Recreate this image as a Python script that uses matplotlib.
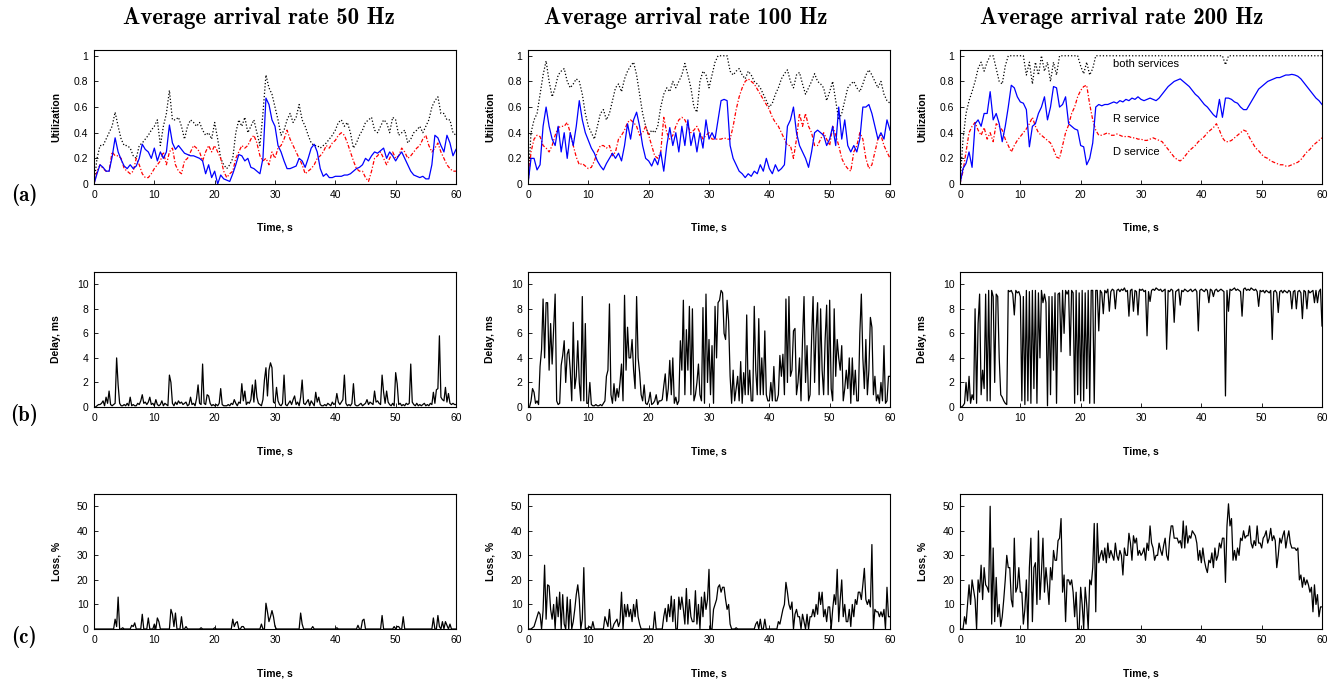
import os
import numpy as np
import matplotlib
matplotlib.use('Agg')
import matplotlib.pyplot as plt
from matplotlib.font_manager import FontProperties

plt.rcParams['font.family'] = ['Liberation Sans', 'DejaVu Sans']
cm_bold = FontProperties(fname=os.path.join(matplotlib.get_data_path(), 'fonts', 'ttf', 'cmb10.ttf'))

# time grids of the read-off samples
t_util = np.arange(121) * 0.5      # utilization, every 0.5 s
t_fine = np.arange(241) * 0.25     # delay / loss, every 0.25 s

rates = ['50', '100', '200']

# ---------------- utilization (row a) ----------------
util50_R = [0.0, 0.08, 0.15, 0.13, 0.1, 0.1, 0.21, 0.36, 0.25, 0.19,
            0.14, 0.12, 0.15, 0.12, 0.14, 0.2, 0.31, 0.27, 0.25, 0.2,
            0.28, 0.18, 0.25, 0.2, 0.25, 0.46, 0.32, 0.27, 0.3, 0.27,
            0.24, 0.23, 0.22, 0.22, 0.21, 0.2, 0.18, 0.08, 0.15, 0.05,
            0.1, 0.0, 0.07, 0.04, 0.03, 0.02, 0.08, 0.15, 0.23, 0.22,
            0.18, 0.2, 0.13, 0.12, 0.1, 0.08, 0.2, 0.67, 0.62, 0.5,
            0.45, 0.3, 0.25, 0.18, 0.12, 0.12, 0.13, 0.14, 0.2, 0.18,
            0.13, 0.2, 0.28, 0.31, 0.25, 0.12, 0.06, 0.08, 0.05, 0.05,
            0.06, 0.06, 0.06, 0.07, 0.07, 0.08, 0.1, 0.12, 0.13, 0.15,
            0.2, 0.18, 0.22, 0.25, 0.24, 0.26, 0.28, 0.2, 0.25, 0.22,
            0.18, 0.22, 0.25, 0.2, 0.15, 0.1, 0.07, 0.06, 0.05, 0.06,
            0.04, 0.04, 0.15, 0.38, 0.36, 0.3, 0.25, 0.38, 0.32, 0.22,
            0.27]
util50_D = [0.0, 0.1, 0.15, 0.12, 0.1, 0.1, 0.25, 0.22, 0.22, 0.2,
            0.12, 0.1, 0.08, 0.1, 0.2, 0.15, 0.08, 0.05, 0.05, 0.08,
            0.12, 0.15, 0.18, 0.25, 0.15, 0.25, 0.28, 0.15, 0.1, 0.08,
            0.18, 0.2, 0.25, 0.3, 0.28, 0.25, 0.18, 0.25, 0.3, 0.25,
            0.3, 0.25, 0.2, 0.1, 0.05, 0.08, 0.1, 0.2, 0.25, 0.3,
            0.28, 0.3, 0.35, 0.38, 0.32, 0.22, 0.18, 0.2, 0.15, 0.25,
            0.2, 0.28, 0.3, 0.35, 0.42, 0.35, 0.3, 0.25, 0.2, 0.15,
            0.08, 0.1, 0.12, 0.15, 0.2, 0.22, 0.25, 0.3, 0.28, 0.32,
            0.34, 0.38, 0.4, 0.38, 0.32, 0.25, 0.18, 0.12, 0.1, 0.1,
            0.05, 0.02, 0.1, 0.2, 0.22, 0.25, 0.2, 0.15, 0.2, 0.25,
            0.2, 0.22, 0.28, 0.25, 0.2, 0.22, 0.25, 0.28, 0.3, 0.35,
            0.38, 0.3, 0.25, 0.28, 0.32, 0.25, 0.2, 0.15, 0.12, 0.1,
            0.1]
util50_all = [0.0, 0.2, 0.3, 0.3, 0.35, 0.4, 0.45, 0.56, 0.45, 0.35,
              0.3, 0.3, 0.28, 0.22, 0.2, 0.3, 0.32, 0.35, 0.38, 0.42,
              0.45, 0.5, 0.3, 0.45, 0.55, 0.73, 0.5, 0.5, 0.52, 0.45,
              0.35, 0.45, 0.5, 0.48, 0.45, 0.48, 0.42, 0.38, 0.4, 0.35,
              0.48, 0.35, 0.2, 0.15, 0.12, 0.15, 0.2, 0.4, 0.5, 0.45,
              0.52, 0.4, 0.45, 0.5, 0.4, 0.3, 0.55, 0.85, 0.75, 0.7,
              0.6, 0.5, 0.38, 0.42, 0.5, 0.55, 0.48, 0.52, 0.62, 0.5,
              0.45, 0.38, 0.32, 0.3, 0.3, 0.28, 0.3, 0.32, 0.35, 0.38,
              0.42, 0.48, 0.5, 0.45, 0.48, 0.4, 0.28, 0.32, 0.38, 0.42,
              0.48, 0.5, 0.52, 0.42, 0.4, 0.45, 0.5, 0.48, 0.4, 0.52,
              0.5, 0.38, 0.4, 0.42, 0.32, 0.35, 0.4, 0.42, 0.45, 0.4,
              0.45, 0.5, 0.6, 0.65, 0.68, 0.55, 0.55, 0.5, 0.5, 0.4,
              0.38]

util100_R = [0.0, 0.2, 0.2, 0.11, 0.15, 0.45, 0.6, 0.45, 0.35, 0.3,
             0.45, 0.25, 0.4, 0.2, 0.4, 0.3, 0.45, 0.65, 0.5, 0.4,
             0.34, 0.28, 0.24, 0.18, 0.14, 0.11, 0.16, 0.2, 0.24, 0.2,
             0.24, 0.18, 0.3, 0.47, 0.35, 0.5, 0.56, 0.45, 0.3, 0.2,
             0.18, 0.14, 0.2, 0.15, 0.25, 0.1, 0.3, 0.44, 0.3, 0.4,
             0.25, 0.45, 0.3, 0.5, 0.3, 0.4, 0.25, 0.4, 0.28, 0.5,
             0.35, 0.4, 0.35, 0.5, 0.65, 0.66, 0.65, 0.3, 0.2, 0.15,
             0.1, 0.08, 0.05, 0.08, 0.06, 0.1, 0.08, 0.15, 0.1, 0.2,
             0.12, 0.08, 0.15, 0.1, 0.12, 0.15, 0.45, 0.5, 0.6, 0.4,
             0.3, 0.25, 0.2, 0.13, 0.25, 0.4, 0.42, 0.4, 0.38, 0.3,
             0.35, 0.45, 0.3, 0.6, 0.35, 0.5, 0.3, 0.25, 0.3, 0.25,
             0.35, 0.6, 0.6, 0.62, 0.55, 0.45, 0.35, 0.4, 0.35, 0.5,
             0.42]
util100_D = [0.0, 0.25, 0.35, 0.38, 0.37, 0.3, 0.28, 0.25, 0.3, 0.38,
             0.44, 0.45, 0.45, 0.48, 0.4, 0.3, 0.21, 0.15, 0.16, 0.14,
             0.12, 0.13, 0.18, 0.25, 0.3, 0.3, 0.28, 0.3, 0.22, 0.25,
             0.35, 0.38, 0.42, 0.48, 0.5, 0.48, 0.45, 0.38, 0.4, 0.45,
             0.38, 0.3, 0.22, 0.2, 0.25, 0.52, 0.4, 0.35, 0.38, 0.45,
             0.5, 0.52, 0.5, 0.45, 0.4, 0.42, 0.45, 0.4, 0.35, 0.38,
             0.4, 0.35, 0.35, 0.35, 0.35, 0.36, 0.35, 0.35, 0.45, 0.58,
             0.68, 0.75, 0.8, 0.82, 0.8, 0.78, 0.74, 0.7, 0.66, 0.62,
             0.58, 0.52, 0.48, 0.45, 0.4, 0.35, 0.3, 0.3, 0.2, 0.35,
             0.55, 0.45, 0.55, 0.45, 0.4, 0.3, 0.3, 0.35, 0.4, 0.35,
             0.3, 0.45, 0.38, 0.3, 0.2, 0.15, 0.12, 0.1, 0.25, 0.3,
             0.4, 0.35, 0.2, 0.12, 0.15, 0.25, 0.35, 0.38, 0.3, 0.25,
             0.2]
util100_all = [0.0, 0.4, 0.5, 0.55, 0.7, 0.85, 0.96, 0.8, 0.68, 0.75,
               0.85, 0.88, 0.9, 0.8, 0.75, 0.78, 0.82, 0.8, 0.7, 0.55,
               0.45, 0.4, 0.35, 0.45, 0.55, 0.58, 0.5, 0.55, 0.65, 0.75,
               0.78, 0.72, 0.82, 0.88, 0.92, 0.95, 0.85, 0.7, 0.55, 0.45,
               0.38, 0.42, 0.4, 0.45, 0.6, 0.7, 0.75, 0.72, 0.8, 0.75,
               0.8, 0.85, 0.94, 0.85, 0.75, 0.6, 0.56, 0.8, 0.88, 0.85,
               0.75, 0.85, 0.95, 1.0, 1.0, 1.0, 1.0, 0.88, 0.85, 0.88,
               0.9, 0.85, 0.82, 0.88, 0.85, 0.8, 0.78, 0.75, 0.7, 0.65,
               0.6, 0.63, 0.7, 0.75, 0.82, 0.86, 0.89, 0.8, 0.75, 0.85,
               0.87, 0.78, 0.7, 0.75, 0.8, 0.86, 0.8, 0.78, 0.75, 0.65,
               0.72, 0.8, 0.65, 0.5, 0.55, 0.65, 0.75, 0.78, 0.8, 0.75,
               0.72, 0.78, 0.85, 0.89, 0.85, 0.8, 0.75, 0.8, 0.7, 0.65,
               0.63]

util200_R = [0.0, 0.12, 0.16, 0.25, 0.13, 0.47, 0.5, 0.45, 0.55, 0.55,
             0.72, 0.5, 0.55, 0.47, 0.33, 0.45, 0.6, 0.77, 0.75, 0.68,
             0.64, 0.63, 0.58, 0.29, 0.45, 0.47, 0.55, 0.6, 0.68, 0.5,
             0.6, 0.76, 0.75, 0.6, 0.62, 0.68, 0.47, 0.45, 0.43, 0.42,
             0.3, 0.29, 0.15, 0.2, 0.32, 0.6, 0.62, 0.61, 0.62, 0.62,
             0.63, 0.64, 0.63, 0.65, 0.64, 0.66, 0.65, 0.67, 0.66, 0.68,
             0.66, 0.65, 0.66, 0.67, 0.66, 0.65, 0.67, 0.7, 0.73, 0.76,
             0.78, 0.8, 0.81, 0.82, 0.8, 0.78, 0.76, 0.73, 0.7, 0.68,
             0.65, 0.62, 0.6, 0.57, 0.54, 0.52, 0.66, 0.52, 0.67, 0.67,
             0.66, 0.64, 0.63, 0.6, 0.58, 0.58, 0.62, 0.66, 0.7, 0.74,
             0.76, 0.78, 0.8, 0.81, 0.82, 0.83, 0.83, 0.84, 0.85, 0.85,
             0.855, 0.85, 0.84, 0.82, 0.79, 0.76, 0.73, 0.7, 0.67, 0.65,
             0.62]
util200_D = [0.0, 0.1, 0.25, 0.4, 0.45, 0.48, 0.42, 0.38, 0.44, 0.35,
             0.4, 0.33, 0.47, 0.45, 0.42, 0.35, 0.3, 0.25, 0.3, 0.34,
             0.37, 0.4, 0.43, 0.47, 0.52, 0.45, 0.4, 0.38, 0.36, 0.34,
             0.32, 0.27, 0.21, 0.2, 0.3, 0.4, 0.46, 0.55, 0.6, 0.68,
             0.73, 0.76, 0.77, 0.62, 0.5, 0.42, 0.38, 0.38, 0.39, 0.4,
             0.38, 0.38, 0.39, 0.38, 0.37, 0.37, 0.37, 0.36, 0.36, 0.35,
             0.35, 0.34, 0.34, 0.35, 0.36, 0.35, 0.34, 0.33, 0.3, 0.27,
             0.24, 0.21, 0.19, 0.18, 0.2, 0.23, 0.26, 0.28, 0.3, 0.33,
             0.35, 0.37, 0.4, 0.42, 0.44, 0.47, 0.42, 0.36, 0.33, 0.33,
             0.34, 0.36, 0.38, 0.4, 0.42, 0.41, 0.36, 0.32, 0.28, 0.26,
             0.23, 0.21, 0.2, 0.18, 0.17, 0.16, 0.15, 0.15, 0.14, 0.14,
             0.15, 0.16, 0.17, 0.19, 0.22, 0.25, 0.27, 0.3, 0.32, 0.34,
             0.36]
util200_all = [0.0, 0.35, 0.55, 0.65, 0.72, 0.8, 0.9, 0.95, 0.88, 0.95,
               1.0, 1.0, 0.9, 0.8, 0.78, 0.92, 1.0, 1.0, 1.0, 1.0,
               1.0, 1.0, 0.85, 0.95, 0.78, 0.95, 0.85, 1.0, 0.88, 0.95,
               0.8, 0.95, 0.85, 1.0, 1.0, 1.0, 1.0, 1.0, 1.0, 1.0,
               0.92, 0.86, 0.95, 0.85, 0.9, 1.0, 1.0, 1.0, 1.0, 1.0,
               1.0, 1.0, 1.0, 1.0, 1.0, 1.0, 1.0, 1.0, 1.0, 1.0,
               1.0, 1.0, 1.0, 1.0, 1.0, 1.0, 1.0, 1.0, 1.0, 1.0,
               1.0, 1.0, 1.0, 1.0, 1.0, 1.0, 1.0, 1.0, 1.0, 1.0,
               1.0, 1.0, 1.0, 1.0, 1.0, 1.0, 1.0, 1.0, 0.93, 1.0,
               1.0, 1.0, 1.0, 1.0, 1.0, 1.0, 1.0, 1.0, 1.0, 1.0,
               1.0, 1.0, 1.0, 1.0, 1.0, 1.0, 1.0, 1.0, 1.0, 1.0,
               1.0, 1.0, 1.0, 1.0, 1.0, 1.0, 1.0, 1.0, 1.0, 1.0,
               1.0]

# ---------------- delay in ms (row b), 4 samples per second ----------------
delay50 = [0, 0, 0.1, 0.2, 0.2, 0.3, 0.5, 0.1, 0.8, 0.3, 1.3, 0.2,
           0.1, 0.2, 0.3, 4.0, 1.8, 0.3, 0.1, 0.1, 0.2, 0.1, 0.3, 0.1,
           0.8, 0.1, 0.2, 0.1, 0.1, 0.3, 0.2, 0.5, 1.0, 0.3, 0.4, 0.2,
           0.4, 0.8, 0.2, 0.3, 0.1, 0.6, 0.2, 0.1, 0.2, 0.5, 0.1, 0.3,
           0.2, 0.1, 2.6, 2.0, 0.3, 0.1, 0.4, 0.2, 0.5, 0.3, 0.4, 0.2,
           0.3, 0.4, 0.1, 0.2, 0.8, 0.2, 0.3, 0.1, 0.7, 1.8, 0.3, 0.2,
           3.5, 0.3, 0.2, 1.0, 0.9, 0.3, 0.1, 0.2, 0.1, 0.2, 0.1, 0.3,
           1.5, 0.2, 0.1, 0.1, 0.1, 0.2, 0.1, 0.3, 0.2, 0.6, 0.3, 0.1,
           0.4, 0.3, 1.9, 0.5, 1.3, 0.2, 0.4, 0.3, 0.6, 1.8, 0.4, 2.2,
           0.8, 0.3, 0.2, 0.1, 0.6, 2.2, 3.2, 0.9, 3.0, 3.6, 3.2, 0.4,
           0.3, 1.6, 0.5, 0.2, 0.1, 0.3, 2.6, 0.2, 0.1, 0.3, 0.5, 0.2,
           0.6, 0.9, 0.2, 0.4, 0.1, 0.8, 2.2, 0.3, 0.2, 0.4, 0.6, 0.1,
           0.5, 0.3, 0.1, 1.2, 0.4, 0.8, 0.2, 0.1, 0.1, 0.2, 0.1, 0.3,
           0.2, 0.1, 0.4, 0.2, 0.3, 1.1, 0.4, 0.2, 0.4, 0.6, 2.6, 0.3,
           0.1, 0.2, 0.1, 0.3, 1.9, 0.2, 0.1, 0.1, 0.2, 0.3, 0.1, 0.2,
           0.3, 0.6, 0.2, 0.4, 0.3, 0.2, 1.3, 0.4, 0.5, 0.3, 0.2, 2.6,
           1.2, 0.3, 1.3, 0.4, 0.2, 0.1, 0.3, 0.1, 2.8, 1.9, 0.2, 0.3,
           0.1, 0.2, 0.1, 0.3, 0.2, 0.3, 3.5, 0.4, 0.2, 0.1, 0.3, 0.1,
           0.2, 0.1, 0.2, 0.3, 0.1, 0.2, 0.1, 0.3, 0.2, 1.2, 0.3, 1.4,
           1.5, 5.8, 0.8, 0.6, 0.5, 1.6, 0.4, 1.1, 0.3, 0.2, 0.3, 0.2,
           0.2]
delay100 = [0, 0, 0.5, 1.5, 1.2, 0.3, 0.5, 0.2, 3.3, 4.7, 8.8, 4.0,
            8.5, 8.5, 3.0, 6.8, 3.5, 6.3, 9.2, 0.5, 0.2, 0.3, 3.4, 4.2,
            5.4, 2.0, 4.3, 4.7, 3.0, 0.5, 6.9, 1.5, 2.5, 5.4, 2.0, 0.5,
            9.0, 0.5, 6.8, 0.3, 0.3, 2.0, 0.2, 0.1, 0.1, 0.2, 0.1, 0.1,
            0.2, 0.1, 0.3, 0.5, 2.5, 3.0, 8.4, 1.0, 0.3, 1.9, 0.5, 1.5,
            0.8, 2.0, 3.5, 0.5, 9.1, 3.0, 6.5, 4.0, 4.0, 5.5, 3.0, 1.5,
            9.0, 4.0, 2.8, 1.0, 0.5, 1.8, 0.3, 0.2, 0.5, 1.2, 0.2, 0.3,
            0.5, 1.0, 0.2, 0.5, 0.5, 0.6, 1.7, 2.7, 0.5, 1.5, 3.8, 1.0,
            4.0, 0.3, 0.8, 0.2, 0.5, 5.4, 3.0, 8.7, 1.0, 6.3, 3.0, 8.2,
            1.0, 8.0, 0.5, 1.0, 2.0, 3.5, 1.0, 0.5, 8.1, 0.3, 9.2, 2.0,
            5.5, 1.0, 5.0, 0.3, 8.2, 4.0, 8.5, 8.7, 9.5, 9.3, 6.0, 5.5,
            8.7, 7.0, 2.5, 0.3, 3.0, 0.5, 1.5, 2.5, 0.5, 3.7, 0.3, 2.8,
            1.0, 7.5, 1.0, 3.0, 0.5, 0.5, 8.2, 3.0, 1.0, 7.2, 1.0, 4.0,
            1.0, 6.2, 1.0, 0.5, 0.5, 2.0, 0.5, 3.3, 0.5, 0.5, 1.0, 4.2,
            2.5, 4.3, 1.0, 8.8, 2.0, 9.0, 2.5, 3.0, 6.2, 6.4, 1.0, 2.0,
            4.0, 0.5, 5.5, 9.0, 2.0, 5.0, 0.5, 1.0, 5.5, 9.0, 2.0, 6.2,
            8.5, 1.0, 8.0, 3.0, 1.0, 5.5, 8.3, 1.0, 8.7, 1.5, 0.5, 8.0,
            2.5, 5.5, 4.0, 3.0, 5.0, 0.5, 1.5, 3.0, 1.5, 4.0, 0.3, 4.0,
            1.0, 3.0, 0.5, 0.5, 6.0, 9.2, 4.0, 1.5, 5.5, 1.0, 3.0, 7.3,
            6.5, 1.0, 2.5, 0.5, 1.0, 0.3, 2.0, 0.5, 5.0, 0.3, 0.5, 2.5,
            2.5]
delay200 = [0, 0, 0.1, 0.3, 2.0, 0.5, 2.5, 0.3, 1.0, 0.6, 8.0, 0.3,
            6.8, 9.2, 1.0, 3.0, 1.5, 9.2, 0.5, 9.5, 0.5, 9.5, 9.0, 2.0,
            9.2, 9.0, 4.0, 1.0, 0.8, 0.5, 0.3, 0.2, 9.5, 9.4, 9.5, 9.2,
            7.5, 9.5, 9.3, 9.4, 9.0, 0.5, 9.0, 0.2, 9.5, 0.5, 9.4, 0.3,
            9.5, 1.5, 9.5, 0.3, 9.3, 4.0, 9.5, 8.5, 9.2, 8.5, 0.1, 9.0,
            1.0, 9.0, 3.0, 9.3, 0.3, 9.2, 9.3, 4.5, 9.5, 6.0, 9.5, 9.2,
            9.5, 4.2, 9.5, 9.3, 0.3, 9.5, 1.0, 9.3, 0.5, 9.5, 0.5, 9.3,
            1.5, 9.5, 0.3, 9.5, 9.5, 0.3, 9.5, 9.5, 6.2, 9.5, 9.3, 7.6,
            9.5, 9.3, 9.6, 7.8, 9.4, 9.6, 9.5, 8.0, 9.5, 9.6, 9.4, 9.6,
            9.5, 9.7, 9.4, 9.5, 7.4, 9.5, 9.6, 7.8, 9.5, 9.4, 7.5, 9.6,
            9.5, 9.6, 9.4, 9.5, 5.8, 9.4, 8.6, 9.5, 9.6, 9.5, 9.7, 9.6,
            9.5, 9.6, 9.4, 9.5, 9.6, 4.7, 9.5, 9.4, 9.6, 9.5, 6.9, 9.4,
            9.5, 9.6, 8.3, 9.5, 9.4, 9.6, 9.5, 9.4, 9.5, 9.6, 9.4, 9.5,
            9.6, 9.4, 6.2, 9.5, 9.6, 9.5, 9.4, 9.6, 9.5, 8.5, 9.6, 9.5,
            9.0, 9.5, 9.6, 9.4, 9.5, 9.6, 9.5, 9.4, 0.9, 9.5, 7.8, 9.6,
            9.5, 9.6, 9.7, 9.5, 9.6, 9.5, 9.4, 7.4, 9.6, 9.7, 9.5, 9.6,
            9.5, 9.7, 9.6, 9.5, 9.6, 9.4, 8.2, 9.5, 9.4, 9.5, 9.3, 9.5,
            9.4, 9.3, 9.5, 5.5, 9.4, 9.5, 9.3, 7.7, 9.4, 9.5, 9.3, 9.5,
            9.4, 9.3, 9.5, 9.4, 8.0, 9.4, 9.5, 8.0, 9.4, 9.5, 9.3, 7.2,
            9.5, 9.4, 8.0, 9.5, 9.3, 9.4, 9.5, 8.5, 9.5, 8.5, 9.4, 9.6,
            6.6]

# ---------------- loss in % (row c), 4 samples per second ----------------
loss50 = [0, 0, 0, 0, 0, 0, 0, 0, 0, 0, 0, 0,
          0, 0, 4, 1, 13, 0, 0, 0.5, 0, 0, 0, 0,
          0, 1.5, 1, 2.5, 0, 0, 0, 0, 6, 0, 0, 0,
          4.5, 0, 0, 0, 2, 0, 4.5, 3, 0, 0, 0, 0,
          0, 0, 0, 8, 6, 1, 6.5, 0, 0, 0, 5, 0,
          0, 1, 0, 0, 0, 0, 0, 0, 0, 0, 0, 0.5,
          0, 0, 0, 0, 0, 0, 0, 0, 0.5, 0, 0, 0,
          0, 0, 0, 0, 0, 0, 0, 0, 4, 1, 2.5, 3,
          0, 0, 1, 1, 0, 0, 0, 0, 0, 0, 0, 0,
          0, 0, 0, 2, 0, 0, 10.5, 7, 3, 5, 7.5, 5,
          1, 0, 0, 0, 0, 0, 0, 0, 0, 0, 0, 0,
          0, 0, 0, 0, 0, 6.5, 2, 0, 0, 0, 0, 0,
          0, 1, 0, 0, 0, 0, 0, 0, 0, 0, 0, 0,
          0, 0, 0, 0, 0, 0.5, 0, 0, 0, 0, 0, 0,
          0, 0, 0, 0, 0, 0, 0, 1.5, 0, 0, 3.5, 4,
          0, 0, 0, 0, 0, 0, 0, 0, 0, 0, 0, 5.5,
          0, 0, 0, 0, 0, 0, 0, 1, 0, 1, 1, 0,
          0, 5, 0, 0, 0, 0, 0, 0, 0, 0, 0, 0,
          0, 0, 0, 0, 0, 0, 0, 0, 0, 4.5, 0, 0,
          5.5, 1, 0, 3, 0, 3, 1.5, 0, 2, 0, 0, 0,
          0]
loss100 = [0, 0, 0, 0.5, 1, 3, 5, 7, 6, 0, 7.5, 26,
           4, 18, 17.5, 8, 4, 10, 0, 13, 5, 15, 0, 14,
           2, 0, 13, 0, 12, 0, 3, 8, 14, 18, 12, 0,
           4, 25, 0, 0.3, 0.5, 1, 0, 3, 0, 0, 0, 0,
           0, 0, 0, 5, 3, 1, 8, 0, 0, 2, 3, 4,
           1, 3, 15, 0, 10, 5, 10, 5, 8, 3, 10, 5,
           12, 5, 2, 0, 0, 0, 0, 0, 0, 0, 0, 0,
           7, 0, 0, 0, 0, 0, 5, 8.4, 3, 10, 5, 13.4,
           3, 12, 0, 0, 13, 8, 13, 8, 2, 16.5, 2, 12,
           5, 3, 3, 15.6, 2, 10, 0, 13, 5, 15, 8, 12,
           24.3, 0, 0, 8, 10, 12, 17, 18, 15, 17, 17, 12,
           8, 10, 2, 0, 0, 0, 0.5, 0, 0, 0, 0, 0,
           0, 0, 0, 0, 0, 0, 0, 2, 3, 0, 4, 0,
           0, 4, 0, 0, 0, 0, 0, 0, 0, 0, 3, 2,
           5, 8, 10, 19, 15, 10, 8, 11, 0, 6, 8, 5,
           5, 0, 6, 3, 0, 6, 0, 5, 5, 8, 5, 10,
           6, 15, 10, 15, 5, 8, 3, 9, 9, 0, 8, 14,
           10, 24.3, 3, 12, 20, 5, 10, 3, 3, 8, 1, 10,
           5, 12, 10, 15, 15, 12, 18, 24.7, 12, 10, 12, 9,
           34.4, 0, 8, 7, 7, 5, 7, 5, 8, 0, 17, 5,
           5]
loss200 = [0, 0, 0, 5, 2, 10, 18, 10, 20, 16, 12, 0,
           20, 15, 26, 12, 25, 18, 17, 15, 50, 2, 33, 3,
           21, 5, 10, 1, 5, 12, 20, 30, 25, 25, 12, 9,
           37, 15, 17, 25, 15, 15, 2, 8, 20, 0, 25, 37,
           3, 25, 27, 10, 40, 12, 23, 37, 15, 25, 18, 10,
           25, 20, 32, 28, 28, 36, 37, 45, 15, 22, 3, 20,
           20, 18, 20, 15, 5, 15, 0, 0, 17, 10, 0, 17,
           10, 0, 20, 18, 25, 43, 7, 43, 27, 30, 32, 28,
           33, 27, 35, 29, 32, 30, 28, 35, 30, 28, 32, 30,
           22, 33, 30, 30, 39, 35, 28, 38, 35, 37, 30, 32,
           30, 31, 33, 28, 35, 32, 42, 35, 33, 28, 30, 30,
           35, 32, 30, 34, 37, 30, 28, 37, 42, 42, 37, 37,
           37, 35, 36, 33, 44, 33, 42, 35, 38, 37, 40, 39,
           38, 35, 28, 32, 27, 33, 28, 25, 23, 28, 27, 31,
           25, 33, 28, 30, 35, 33, 37, 37, 19, 42, 51, 42,
           45, 28, 32, 28, 33, 30, 37, 36, 40, 37, 38, 38,
           42, 35, 33, 36, 34, 42, 35, 35, 33, 37, 38, 40,
           35, 37, 41, 36, 38, 36, 25, 30, 37, 35, 38, 40,
           33, 37, 40, 35, 33, 33, 33, 32, 33, 20, 22, 17,
           21, 18, 20, 18, 15, 17, 7, 18, 10, 14, 5, 9,
           9]

util = [(util50_R, util50_D, util50_all),
        (util100_R, util100_D, util100_all),
        (util200_R, util200_D, util200_all)]
delay = [delay50, delay100, delay200]
loss = [loss50, loss100, loss200]

W, H = 1343, 688
fig = plt.figure(figsize=(W / 100, H / 100), dpi=100)

col_x = [94, 528, 960]
col_w = 362
row_y = [(50, 184), (272, 407), (494, 629)]
title_x = [259, 686, 1122]


def make_axes(x0, ytop, ybot):
    ax = fig.add_axes([x0 / W, 1 - ybot / H, col_w / W, (ybot - ytop) / H])
    ax.set_xlim(0, 60)
    ax.set_xticks(range(0, 61, 10))
    ax.tick_params(direction='in', length=3, width=0.6, labelsize=7.5,
                   top=False, right=False, pad=4)
    for sp in ax.spines.values():
        sp.set_linewidth(0.8)
    ax.set_xlabel('Time, s', fontsize=7.5, fontweight='bold')
    ax.xaxis.set_label_coords(0.5, -0.29)
    return ax


for c in range(3):
    # row a: utilization
    ax = make_axes(col_x[c], *row_y[0])
    r_ser, d_ser, all_ser = util[c]
    ax.plot(t_util, all_ser, color='black', lw=0.9, ls=(0, (1, 1.6)))
    ax.plot(t_util, d_ser, color='#ff0000', lw=0.9, ls=(0, (3, 1.5, 1, 1.5)))
    ax.plot(t_util, r_ser, color='#0000ff', lw=0.9)
    ax.set_ylim(0, 1.045)
    ax.set_yticks([0, 0.2, 0.4, 0.6, 0.8, 1])
    ax.set_yticklabels(['0', '0.2', '0.4', '0.6', '0.8', '1'])
    ax.set_ylabel('Utilization', fontsize=7.5, fontweight='bold')
    ax.yaxis.set_label_coords(-0.09, 0.5)
    if c == 2:
        ax.text(25.4, 0.935, 'both services', fontsize=8, va='center')
        ax.text(25.4, 0.507, 'R service', fontsize=8, va='center')
        ax.text(25.4, 0.25, 'D service', fontsize=8, va='center')

    # row b: delay
    ax = make_axes(col_x[c], *row_y[1])
    ax.plot(t_fine, delay[c], color='black', lw=0.9)
    ax.set_ylim(0, 11)
    ax.set_yticks(range(0, 11, 2))
    ax.set_ylabel('Delay, ms', fontsize=7.5, fontweight='bold')
    ax.yaxis.set_label_coords(-0.09, 0.5)

    # row c: loss
    ax = make_axes(col_x[c], *row_y[2])
    ax.plot(t_fine, loss[c], color='black', lw=0.9)
    ax.set_ylim(0, 55)
    ax.set_yticks(range(0, 51, 10))
    ax.set_ylabel('Loss, %', fontsize=7.5, fontweight='bold')
    ax.yaxis.set_label_coords(-0.09, 0.5)

    fig.text(title_x[c] / W, 1 - 18 / H, 'Average arrival rate %s Hz' % rates[c],
             ha='center', va='center', fontproperties=cm_bold, fontsize=16.5)

for lab, yc in zip(['(a)', '(b)', '(c)'], [195, 415, 637]):
    fig.text(24 / W, 1 - yc / H, lab, ha='center', va='center',
             fontproperties=cm_bold, fontsize=15)

fig.savefig('out.png', dpi=100)
